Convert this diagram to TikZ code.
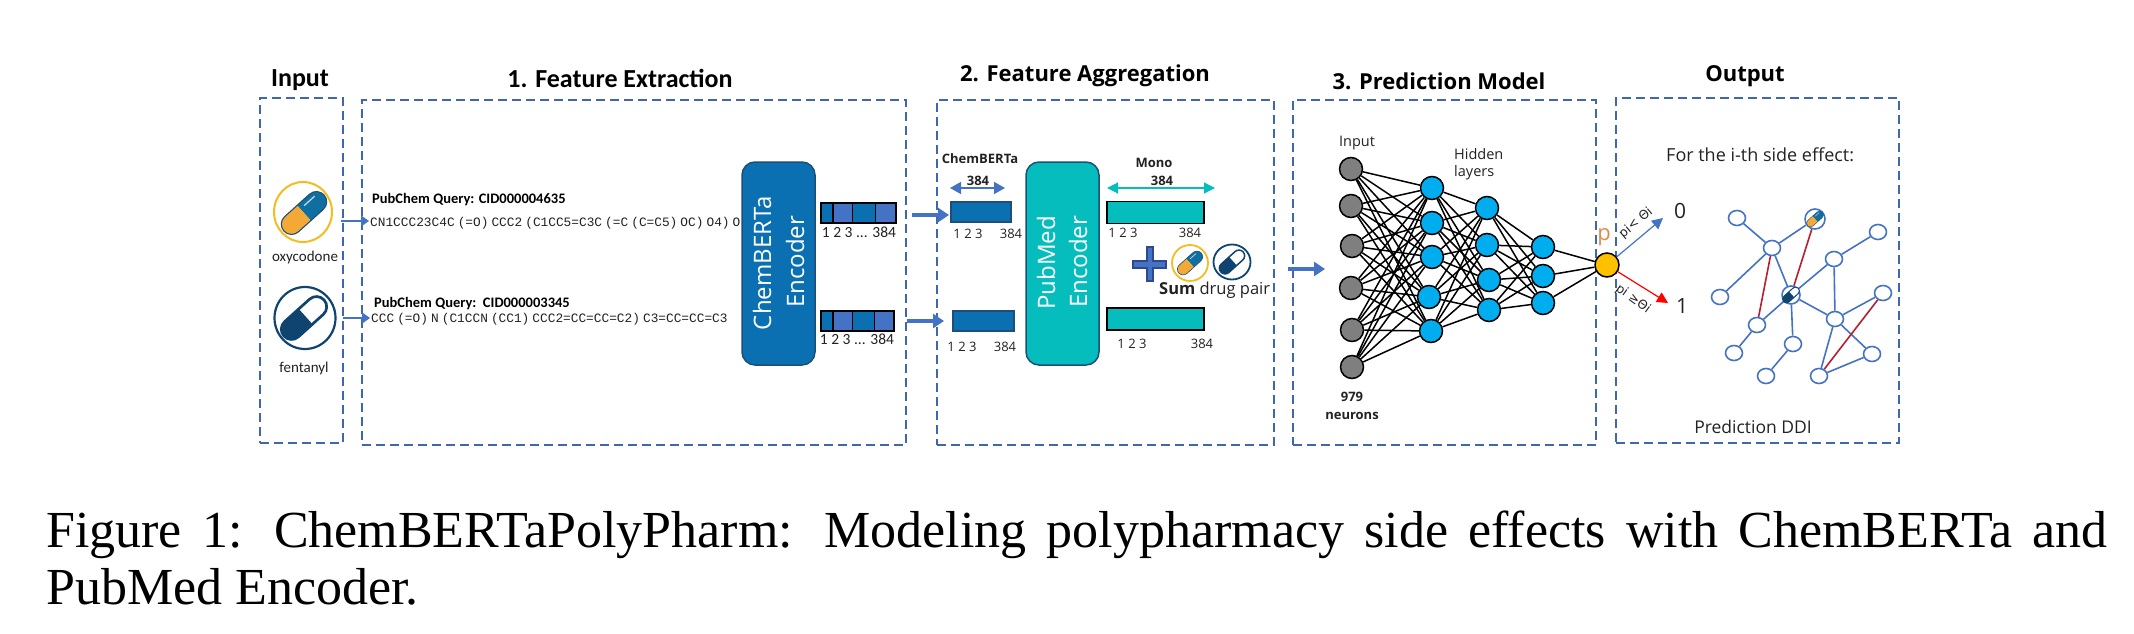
\documentclass[tikz,border=0pt]{standalone}
\usepackage{fontspec}
\usetikzlibrary{arrows.meta,shapes.geometric}
\setmainfont{Liberation Serif}
\newfontfamily\carl{Carlito}
\newfontfamily\notos{Open Sans}
\newfontfamily\djv{DejaVu Sans}
\newfontfamily\smilesfont[WordSpace=0.4]{Liberation Mono}
\newcommand{\fsz}[1]{\fontsize{#1}{#1}\selectfont}
\definecolor{dashblue}{HTML}{3F66AE}
\definecolor{arrowblue}{HTML}{4472C4}
\definecolor{chemblue}{HTML}{0A70B2}
\definecolor{tealfill}{HTML}{05BDBD}
\definecolor{navyline}{HTML}{1F4E79}
\definecolor{pillblue}{HTML}{0F6FA0}
\definecolor{pillorange}{HTML}{F4A836}
\definecolor{pillyellow}{HTML}{F5BC22}
\definecolor{pillnavy}{HTML}{0F4470}
\definecolor{netgray}{HTML}{7F7F7F}
\definecolor{netblue}{HTML}{00AEEF}
\definecolor{netgold}{HTML}{FFC000}
\definecolor{pcolor}{HTML}{E08A4A}
\definecolor{ddired}{HTML}{B5202E}
\definecolor{plusdark}{HTML}{2F4A8C}
\definecolor{txtdark}{HTML}{222222}
\newcommand{\pillwarm}[3]{%
\begin{scope}[shift={(#1,#2)},x=#3pt,y=#3pt,rotate=42]
\fill[pillblue] (0,-.38) -- (.62,-.38) arc (-90:90:.38) -- (0,.38) -- cycle;
\fill[pillorange] (0,-.38) -- (-.62,-.38) arc (270:90:.38) -- (0,.38) -- cycle;
\draw[white,opacity=.7,line width=#3*.05pt,line cap=round] (.2,.2) -- (.7,.2);
\draw[navyline,line width=#3*.04pt] (.62,-.38) arc (-90:90:.38) -- (-.62,.38) arc (90:270:.38) -- cycle;
\end{scope}}
\newcommand{\pillcool}[3]{%
\begin{scope}[shift={(#1,#2)},x=#3pt,y=#3pt,rotate=42]
\fill[white] (0,-.38) -- (.62,-.38) arc (-90:90:.38) -- (0,.38) -- cycle;
\fill[pillnavy] (.08,-.38) -- (-.62,-.38) arc (270:90:.38) -- (.08,.38) -- cycle;
\draw[pillnavy,line width=#3*.1pt] (.62,-.38) arc (-90:90:.38) -- (-.62,.38) arc (90:270:.38) -- cycle;
\end{scope}}
\tikzset{
 dbox/.style={draw=dashblue,line width=2pt,dash pattern=on 9pt off 5pt,inner sep=0pt},
 title/.style={font=\carl\bfseries\fsz{26},text=black,inner sep=0pt},
 titleb/.style={font=\notos\bfseries\fsz{22},text=black,inner sep=0pt},
 query/.style={font=\carl\bfseries\fsz{14.5},text=black,inner sep=0pt},
 smiles/.style={font=\smilesfont\fsz{12.8},text=txtdark,inner sep=0pt},
 drug/.style={font=\carl\fsz{15},text=txtdark,inner sep=0pt},
 nums/.style={font=\carl\fsz{15.5},text=txtdark,inner sep=0pt},
 numsb/.style={font=\notos\fsz{13},text=txtdark,inner sep=0pt},
 boldlab/.style={font=\notos\bfseries\fsz{13},text=txtdark,inner sep=0pt},
 plain/.style={font=\notos\fsz{14.5},text=txtdark,inner sep=0pt},
 block/.style={draw=navyline,line width=1.5pt,rounded corners=13pt,inner sep=0pt,minimum width=73pt,minimum height=203pt},
 blocktext/.style={font=\notos\fsz{24},text=white,rotate=90,inner sep=0pt},
 thin arrow/.style={draw=arrowblue,line width=1.5pt,-{Triangle[length=8pt,width=11pt]}},
 thick arrow/.style={draw=arrowblue,line width=4pt,-{Triangle[length=11pt,width=14pt]}},
 seg/.style={draw=black,line width=1.5pt,inner sep=0pt,minimum height=20pt},
 neuron/.style={circle,draw=black,line width=1.5pt,inner sep=0pt,minimum size=23pt},
 inneuron/.style={neuron,fill=netgray},
 hidneuron/.style={neuron,fill=netblue},
 synapse/.style={draw=black,line width=1.5pt},
 gnode/.style={ellipse,draw=arrowblue,line width=1.6pt,fill=white,inner sep=0pt,minimum width=17pt,minimum height=15pt},
 gedge/.style={draw=arrowblue,line width=1.6pt},
 redge/.style={draw=ddired,line width=1.6pt},
 captext/.style={font=\rmfamily\fsz{52},text=black,inner sep=0pt,anchor=base west},
}
\begin{document}
\begin{tikzpicture}[x=1pt,y=-1pt]
\useasboundingbox (0,0) rectangle (2134,634);
% dashed panels
\node[dbox,minimum width=83pt,minimum height=345pt] (inputbox) at (301.5,270.5) {};
\node[dbox,minimum width=544pt,minimum height=345pt] (extractbox) at (634,272.5) {};
\node[dbox,minimum width=337pt,minimum height=345pt] (aggbox) at (1105.5,272.5) {};
\node[dbox,minimum width=303pt,minimum height=345pt] (predbox) at (1444.5,272.5) {};
\node[dbox,minimum width=283pt,minimum height=345pt] (outbox) at (1757.5,270.5) {};
% titles
\node[title] (t1) at (300,80) {Input};
\node[title] (t2) at (620,78) {1. Feature Extraction};
\node[titleb] (t3) at (1085,76) {2. Feature Aggregation};
\node[titleb] (t4) at (1439,81) {3. Prediction Model};
\node[titleb] (t5) at (1745,76) {Output};
% input icons
\node[ellipse,draw=pillyellow,line width=2pt,fill=white,inner sep=0pt,minimum width=58pt,minimum height=60pt] (oxy) at (303,212) {};
\pillwarm{304}{213}{27}
\node[ellipse,draw=pillnavy,line width=2.2pt,fill=white,inner sep=0pt,minimum width=61pt,minimum height=62pt] (fen) at (305,318) {};
\pillcool{304}{318}{27}
\node[drug] (oxyl) at (305,257) {oxycodone};
\node[drug] (fenl) at (304,368) {fentanyl};
% queries
\node[query,anchor=west] (q1) at (372,200) {PubChem Query: CID000004635};
\node[query,anchor=west] (q2) at (374,304) {PubChem Query:\ \ CID000003345};
\node[smiles,anchor=west] (s1) at (370,223) {CN1CCC23C4C (=O) CCC2 (C1CC5=C3C (=C (C=C5) OC) O4) O};
\node[smiles,anchor=west] (s2) at (371,319) {CCC (=O) N (C1CCN (CC1) CCC2=CC=CC=C2) C3=CC=CC=C3};
\coordinate (oa1) at (341,221);
\coordinate (oa2) at (369,221);
\coordinate (fa1) at (343,318);
\coordinate (fa2) at (370,318);
\draw[thin arrow] (oa1) -- (oa2);
\draw[thin arrow] (fa1) -- (fa2);
% ChemBERTa encoder
\node[block,fill=chemblue] (chem) at (778.5,263.5) {};
\node[blocktext] (chemt1) at (762,263) {ChemBERTa};
\node[blocktext] (chemt2) at (795,262) {Encoder};
% vector segments, upper
\node[seg,fill=chemblue,minimum width=12pt] (v1a) at (827,213) {};
\node[seg,fill=arrowblue,minimum width=19.5pt] (v1b) at (842.75,213) {};
\node[seg,fill=chemblue,minimum width=23pt] (v1c) at (864,213) {};
\node[seg,fill=arrowblue,minimum width=20.5pt] (v1d) at (885.75,213) {};
\node[nums] (v1l) at (859,232) {1 2 3 ... 384};
% vector segments, lower
\node[seg,fill=chemblue,minimum width=12pt] (v2a) at (827,321) {};
\node[seg,fill=arrowblue,minimum width=19.5pt] (v2b) at (842.75,321) {};
\node[seg,fill=chemblue,minimum width=22pt] (v2c) at (863.5,321) {};
\node[seg,fill=arrowblue,minimum width=19.5pt] (v2d) at (884.25,321) {};
\node[nums] (v2l) at (857,339) {1 2 3 ... 384};
% arrows into aggregation
\coordinate (ta1) at (912,215);
\coordinate (ta2) at (949,215);
\coordinate (tb1) at (907,321);
\coordinate (tb2) at (944,321);
\draw[thick arrow] (ta1) -- (ta2);
\draw[thick arrow] (tb1) -- (tb2);
% aggregation, left side
\node[boldlab] (cbl) at (980,159) {ChemBERTa};
\node[boldlab] (cbn) at (978,181) {384};
\coordinate (cb1) at (950,188);
\coordinate (cb2) at (1005,188);
\draw[draw=arrowblue,line width=1.5pt,{Triangle[length=11pt,width=12pt]}-{Triangle[length=11pt,width=12pt]}] (cb1) -- (cb2);
\node[seg,fill=chemblue,draw=navyline,minimum width=60pt] (b1) at (981,212) {};
\node[numsb] (b1a) at (968,234) {1 2 3};
\node[numsb] (b1b) at (1011,234) {384};
\node[seg,fill=chemblue,draw=navyline,minimum width=61pt] (b2) at (983.5,321) {};
\node[numsb] (b2a) at (962,347) {1 2 3};
\node[numsb] (b2b) at (1005,347) {384};
% PubMed encoder
\node[block,fill=tealfill] (pub) at (1062.5,263.5) {};
\node[blocktext] (pubt1) at (1046,263) {PubMed};
\node[blocktext] (pubt2) at (1078,262) {Encoder};
% aggregation, right side
\node[boldlab] (monol) at (1154,163) {Mono};
\node[boldlab] (monon) at (1162,181) {384};
\coordinate (mo1) at (1107,188);
\coordinate (mo2) at (1215,188);
\draw[draw=tealfill,line width=1.2pt,{Triangle[length=11pt,width=11pt]}-{Triangle[length=11pt,width=11pt]}] (mo1) -- (mo2);
\node[seg,fill=tealfill,minimum width=97pt,minimum height=22pt] (m1) at (1155.5,212.5) {};
\node[numsb] (m1a) at (1123,233) {1 2 3};
\node[numsb] (m1b) at (1190,233) {384};
\node[seg,fill=tealfill,minimum width=97pt,minimum height=22pt] (m2) at (1155.5,319) {};
\node[numsb] (m2a) at (1132,344) {1 2 3};
\node[numsb] (m2b) at (1202,344) {384};
% plus and pair
\fill[arrowblue,draw=plusdark,line width=1.2pt] (1147,247) -- (1153,247) -- (1153,261) -- (1166,261) -- (1166,268) -- (1153,268) -- (1153,281) -- (1147,281) -- (1147,268) -- (1133,268) -- (1133,261) -- (1147,261) -- cycle;
\node[ellipse,draw=pillyellow,line width=1.8pt,fill=white,inner sep=0pt,minimum width=36pt,minimum height=36pt] (oxy2) at (1190,263) {};
\pillwarm{1190}{263}{15}
\node[ellipse,draw=pillnavy,line width=1.8pt,fill=white,inner sep=0pt,minimum width=37pt,minimum height=35pt] (fen2) at (1232,262) {};
\pillcool{1232}{262}{15}
\node[inner sep=0pt,text=txtdark,font=\notos\fsz{16.5},anchor=west] (sumt) at (1159,290) {\textbf{Sum} drug pair};
% arrow to model
\coordinate (pa1) at (1288,269);
\coordinate (pa2) at (1325,269);
\draw[thick arrow] (pa1) -- (pa2);
% network
\node[plain] (inl) at (1357,143) {Input};
\node[plain,anchor=west] (hid1) at (1454,154) {Hidden};
\node[plain,anchor=west] (hid2) at (1454,173) {layers};
\node[boldlab] (n979) at (1352,397) {979};
\node[boldlab] (nneu) at (1352,416) {neurons};
\foreach \n/\px/\py in {1/1351/169,2/1351/206,3/1352/246,4/1351/288,5/1352/330,6/1352/367}
  \node[inneuron] (a\n) at (\px,\py) {};
\foreach \n/\px/\py in {1/1432/188,2/1432/223,3/1432/257,4/1429/297,5/1431/331}
  \node[hidneuron] (b\n) at (\px,\py) {};
\foreach \n/\px/\py in {1/1487/208,2/1487/245,3/1489/280,4/1489/310}
  \node[hidneuron] (c\n) at (\px,\py) {};
\foreach \n/\px/\py in {1/1543/247,2/1543/276,3/1543/303}
  \node[hidneuron] (d\n) at (\px,\py) {};
\node[neuron,fill=netgold,minimum size=24pt] (pout) at (1607,265) {};
\foreach \i in {1,...,6} \foreach \j in {1,...,5} \draw[synapse] (a\i) -- (b\j);
\foreach \i in {1,...,5} \foreach \j in {1,...,4} \draw[synapse] (b\i) -- (c\j);
\foreach \i in {1,...,4} \foreach \j in {1,...,3} \draw[synapse] (c\i) -- (d\j);
\foreach \i in {1,...,3} \draw[synapse] (d\i) -- (pout);
\node[inner sep=0pt,text=pcolor,font=\notos\fsz{22}] (pl) at (1604,237) {p};
% output
\node[inner sep=0pt,text=txtdark,font=\notos\fsz{18},anchor=west] (ith) at (1666,155) {For the i-th side effect:};
\node[inner sep=0pt,text=txtdark,font=\notos\fsz{21}] (zero) at (1680,211) {0};
\node[inner sep=0pt,text=txtdark,font=\notos\fsz{21}] (one) at (1682,306) {1};
\coordinate (pz) at (1663,218);
\coordinate (po) at (1668,303);
\draw[draw=arrowblue,line width=1.2pt,-{Triangle[length=11pt,width=11pt]}] (pout) -- (pz);
\draw[draw=red,line width=1.2pt,-{Triangle[length=11pt,width=11pt]}] (pout) -- (po);
\node[inner sep=0pt,text=txtdark,font=\djv\fsz{12.5},rotate=40] (pl1) at (1636,223) {pi< Θi};
\node[inner sep=0pt,text=txtdark,font=\djv\fsz{12.5},rotate=-36] (pl2) at (1633,299) {pi ≥Θi};
\node[inner sep=0pt,text=txtdark,font=\notos\fsz{17.5}] (ddi) at (1753,427) {Prediction DDI};
% graph
\foreach \n/\px/\py in {ga/1737/218,gc/1772/248,gd/1878/232,ge/1834/259,gf/1720/297,gh/1883/293,gi/1757/325,gj/1835/319,gk/1734/353,gl/1793/344,gm/1872/354,gn/1766/376,go/1819/376}
  \node[gnode] (\n) at (\px,\py) {};
\node[gnode,minimum width=20pt,minimum height=20pt] (gb) at (1815,219) {};
\node[gnode,minimum width=18pt,minimum height=18pt] (gg) at (1791,295) {};
\foreach \s/\t in {ga/gc,gb/gc,gc/gf,gc/gg,gd/ge,ge/gg,ge/gj,gg/gi,gg/gl,gg/gj,gj/gh,gi/gk,gl/gn,gj/gm,gj/go,gm/go}
  \draw[gedge] (\s) -- (\t);
\foreach \s/\t in {gc/gi,gb/gg,gh/go}
  \draw[redge] (\s) -- (\t);
\pillwarm{1815}{219}{10}
\pillcool{1791}{295}{10}
% caption
\node[captext] (cap1) at (46,547) {\makebox[2061pt][s]{Figure 1: ChemBERTaPolyPharm: Modeling polypharmacy side effects with ChemBERTa and}};
\node[captext] (cap2) at (46,604) {PubMed Encoder.};
\end{tikzpicture}
\end{document}
